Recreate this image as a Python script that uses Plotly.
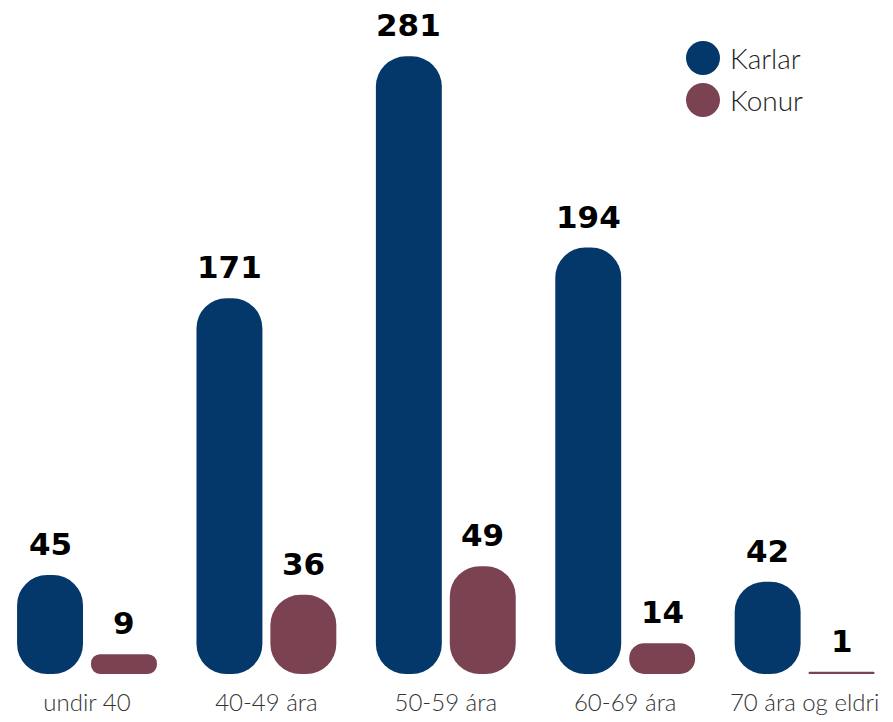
import plotly.graph_objects as go

categories = ["undir 40", "40-49 ára", "50-59 ára", "60-69 ára", "70 ára og eldri"]
karlar = [45, 171, 281, 194, 42]
konur = [9, 36, 49, 14, 1]
series_names = ["Karlar", "Konur"]
colors = ["#04386A", "#7B4352"]

W, H = 893, 722
STEP = 179.4  # pixels per category
fig = go.Figure()

for name, vals, col in [(series_names[0], karlar, colors[0]),
                        (series_names[1], konur, colors[1])]:
    fig.add_trace(go.Bar(
        x=categories, y=vals, base=[0] * len(vals),
        marker=dict(color=col, line=dict(width=0)), name=name,
        showlegend=False, hoverinfo="skip"))

annotations = []
for vals, shift in [(karlar, -37), (konur, 37)]:
    for c, v in zip(categories, vals):
        annotations.append(dict(
            x=c, y=v, xref="x", yref="y", text=str(v), showarrow=False,
            xanchor="center", yanchor="bottom", xshift=shift, yshift=11,
            font=dict(family="DejaVu Sans", size=31, color="#000000", weight="bold")))

# custom legend
legend_y = [1 - 58 / 674, 1 - 100 / 674]
shapes = []
for name, col, ly in zip(series_names, colors, legend_y):
    shapes.append(dict(type="circle", xref="paper", yref="paper", xsizemode="pixel", ysizemode="pixel",
                       xanchor=703 / W, yanchor=ly, x0=-17, x1=17, y0=-17, y1=17,
                       fillcolor=col, line=dict(width=0)))
    annotations.append(dict(x=728 / W, y=ly, xref="paper", yref="paper", text=name, showarrow=False,
                            xanchor="left", yanchor="middle",
                            font=dict(family="Lato, Roboto, Liberation Sans", size=28, color="#222222", weight=300)))

fig.update_layout(
    width=W, height=H,
    margin=dict(l=0, r=0, t=0, b=48),
    paper_bgcolor="white", plot_bgcolor="white",
    barmode="group", bargap=0.176, bargroupgap=0.108, barcornerradius=30,
    showlegend=False,
    xaxis=dict(range=[-87 / STEP, -87 / STEP + W / STEP], showgrid=False, zeroline=False, showline=False,
               ticks="", ticklabelstandoff=12, automargin=False,
               tickfont=dict(family="Lato, Roboto, Liberation Sans", size=24, color="#333333", weight=300)),
    yaxis=dict(range=[0, 674 / 2.198], visible=False, showgrid=False, zeroline=False, automargin=False),
    shapes=shapes, annotations=annotations,
)

fig.write_html("out.html", config={"displayModeBar": False},
               post_script="document.body.style.margin='0';")
